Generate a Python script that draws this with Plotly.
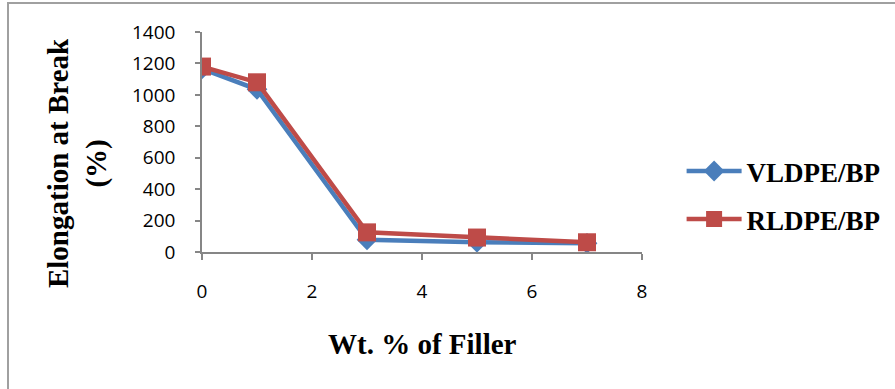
import plotly.graph_objects as go

# Filler loading (wt. %) and elongation at break (%) for the two blends
filler_wt = [0, 1, 3, 5, 7]
vldpe_bp = [1165, 1035, 78, 62, 55]
rldpe_bp = [1180, 1080, 125, 92, 62]

x_ticks = [0, 2, 4, 6, 8]
y_ticks = [0, 200, 400, 600, 800, 1000, 1200, 1400]

BLUE = "#4A7EBB"
RED = "#BE4B48"
AXIS = "#868686"
SERIF = "Liberation Serif, Times New Roman, serif"
TITLE_FONT = dict(family=SERIF, size=29, color="black", weight="bold")
LEGEND_FONT = dict(family=SERIF, size=27, color="black", weight="bold")
TICK_FONT = dict(family="Open Sans, sans-serif", size=19, color="black")

fig = go.Figure()
fig.add_trace(go.Scatter(
    x=filler_wt, y=vldpe_bp, name="VLDPE/BP", mode="lines+markers",
    line=dict(color=BLUE, width=4.5),
    marker=dict(symbol="diamond", size=16, color=BLUE),
    legendgroup="a",
))
fig.add_trace(go.Scatter(
    x=filler_wt, y=rldpe_bp, name="RLDPE/BP", mode="lines+markers",
    line=dict(color=RED, width=4.5),
    marker=dict(symbol="square", size=18, color=RED),
    legendgroup="b",
))

fig.update_layout(
    width=895, height=389,
    margin=dict(l=202, r=253, t=32, b=137, autoexpand=False),
    paper_bgcolor="white", plot_bgcolor="white",
    showlegend=True,
    legend=dict(
        x=1.09, y=0.257, xanchor="left", yanchor="middle",
        font=LEGEND_FONT, tracegroupgap=10, itemwidth=55,
        bgcolor="rgba(0,0,0,0)",
    ),
    xaxis=dict(
        range=[0, 8], tickvals=x_ticks, showgrid=False, zeroline=False,
        showline=True, linecolor=AXIS, linewidth=1.5,
        ticks="outside", ticklen=6, tickcolor=AXIS, tickwidth=1.5,
        tickfont=TICK_FONT, ticklabelstandoff=15,
    ),
    yaxis=dict(
        range=[0, 1400], tickvals=y_ticks, showgrid=False, zeroline=False,
        showline=True, linecolor=AXIS, linewidth=1.5,
        ticks="outside", ticklen=5, tickcolor=AXIS, tickwidth=1.5,
        tickfont=TICK_FONT, ticklabelstandoff=16,
    ),
    annotations=[
        dict(text="Wt. % of Filler", xref="paper", yref="paper",
             x=0.5, y=-0.42, xanchor="center", yanchor="middle",
             showarrow=False, font=TITLE_FONT),
        dict(text="Elongation at Break<br>(%)", xref="paper", yref="paper",
             x=-0.284, y=0.4045, xanchor="center", yanchor="middle",
             textangle=-90, showarrow=False, font=TITLE_FONT),
    ],
    shapes=[
        dict(type="rect", xref="paper", yref="paper",
             x0=-0.4409, y0=-2, x1=2, y1=1.1318,
             line=dict(color="#A0A0A0", width=2), layer="below"),
    ],
)

fig.write_html("out.html")
